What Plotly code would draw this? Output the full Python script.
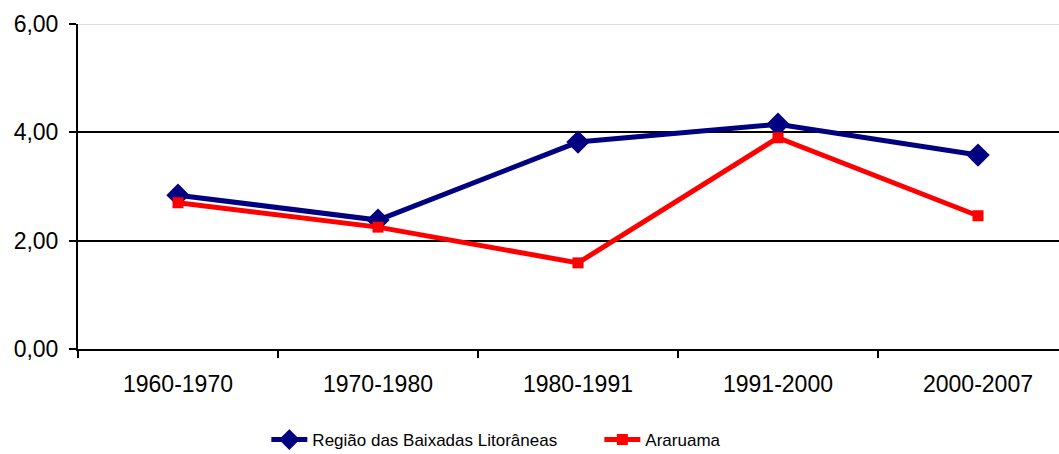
import plotly.graph_objects as go

periods = ['1960-1970', '1970-1980', '1980-1991', '1991-2000', '2000-2007']
baixadas = [2.84, 2.38, 3.82, 4.15, 3.58]
araruama = [2.70, 2.25, 1.59, 3.90, 2.46]
y_ticks = [0, 2, 4, 6]

fig = go.Figure()
fig.add_scatter(name='Região das Baixadas Litorâneas', x=periods, y=baixadas,
                mode='lines+markers', line=dict(color='#000080', width=5),
                marker=dict(symbol='diamond', size=18, color='#000080'))
fig.add_scatter(name='Araruama', x=periods, y=araruama,
                mode='lines+markers', line=dict(color='#FF0000', width=5),
                marker=dict(symbol='square', size=11, color='#FF0000'))

# light grey line at the top of the plot area (Excel style)
fig.add_shape(type='line', xref='paper', x0=0, x1=1, yref='y', y0=6, y1=6,
              line=dict(color='#d0d0d0', width=1.5), layer='above')

fig.update_layout(
    width=1059, height=454,
    paper_bgcolor='white', plot_bgcolor='white',
    margin=dict(l=78, r=0, t=24, b=105, autoexpand=False),
    separators=',.',
    font=dict(family='Liberation Sans, Arial, sans-serif', color='black', size=23),
    showlegend=True,
    legend=dict(orientation='h', x=0.192, xanchor='left', y=-0.28, yanchor='middle',
                font=dict(size=17), entrywidth=282, itemwidth=36,
                bgcolor='rgba(0,0,0,0)'),
)
fig.update_xaxes(range=[-0.5, 4.405], showline=True, linecolor='black', linewidth=2,
                 ticks='outside', ticklen=7, tickcolor='black', tickwidth=1.5,
                 tickson='boundaries', showgrid=False, ticklabelstandoff=13)
fig.update_yaxes(range=[0, 6], tickvals=y_ticks, tickformat='.2f',
                 showline=True, linecolor='black', linewidth=2,
                 ticks='outside', ticklen=7, tickcolor='black', tickwidth=1.5,
                 showgrid=True, gridcolor='black', gridwidth=1.5,
                 zeroline=False, ticklabelstandoff=6)

fig.write_html("out.html", config={'displayModeBar': False},
               post_script="document.body.style.margin='0';")
